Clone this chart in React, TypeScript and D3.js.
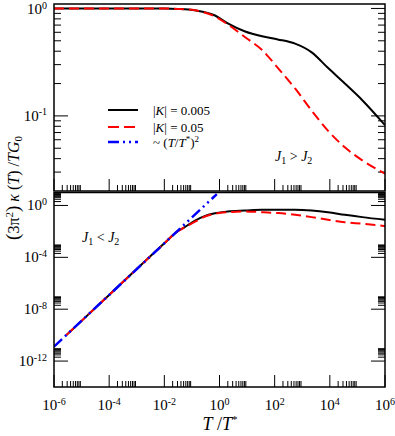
import React from 'react';
import * as d3 from 'd3';

const W = 395;
const H = 436;
const FONT = "'Liberation Serif', 'DejaVu Serif', 'Noto Serif', 'Nimbus Roman', 'FreeSerif', Tinos, serif";

// T / T*  (shared x)
const topT = [1e-6, 1e-4, 1e-2, 0.03, 0.13, 0.69, 2.0, 8.5, 35, 130, 550, 2200, 8500, 35000, 150000, 1e6];
// top panel, (3pi^2) kappa / T G0 for J1 > J2
const topK005 = [1, 1, 0.999, 0.99, 0.96, 0.86, 0.725, 0.61, 0.55, 0.515, 0.47, 0.39, 0.28, 0.2, 0.14, 0.082];
const topK05 = [1, 1, 0.999, 0.99, 0.96, 0.84, 0.71, 0.54, 0.41, 0.28, 0.18, 0.112, 0.073, 0.051, 0.0386, 0.029];

// bottom panel, J1 < J2
const botT = [2.8e-6, 1e-5, 1e-4, 1e-3, 1e-2, 0.03, 0.048, 0.13, 0.3, 0.69, 2, 8.5, 35, 130, 550, 2200, 8500, 35000, 150000, 1e6];
const botK005 = [1e-10, 1.26e-9, 1.26e-7, 1.26e-5, 1.2e-3, 0.01, 0.0178, 0.069, 0.158, 0.251, 0.347, 0.407, 0.468, 0.468, 0.468, 0.407, 0.302, 0.19, 0.126, 0.079];
const botK05 = [1e-10, 1.26e-9, 1.26e-7, 1.26e-5, 1.2e-3, 0.01, 0.0178, 0.056, 0.141, 0.229, 0.302, 0.347, 0.302, 0.257, 0.19, 0.126, 0.079, 0.051, 0.039, 0.026];
// ~ (T/T*)^2 guide
const powT = [1e-6, 0.8];
const powV = [1.3e-11, 7.5];

const xMajorExp = [-6, -4, -2, 0, 2, 4, 6];
const topMajorExp = [0, -1];
const botMajorExp = [0, -4, -8, -12];

const x = d3.scaleLog().domain([1e-6, 1e6]).range([54, 385]);
const yTop = d3.scaleLog().domain([0.02, 1.1]).range([191, 4]);
const yBot = d3.scaleLog().domain([1e-14, 10]).range([387, 192.5]);

const zip = (a: number[], b: number[]) => a.map((v, i) => [v, b[i]] as [number, number]);
const path = (ys: d3.ScaleLogarithmic<number, number>, a: number[], b: number[]) =>
  d3.line<[number, number]>().x(d => x(d[0])).y(d => ys(d[1])).curve(d3.curveMonotoneX)(zip(a, b)) || '';

const Pow = ({ px, py, e, anchor }: { px: number; py: number; e: number; anchor: string }) => (
  <text x={px} y={py} textAnchor={anchor as any} fontSize={15} style={{ fontFamily: FONT }}>
    10<tspan dy={-5.5} fontSize={10}>{e < 0 ? '-' + -e : e}</tspan>
  </text>
);

function Panel({ ys, majors, minors, clip }: { ys: any; majors: number[]; minors: number[]; clip: string }) {
  const [yb, yt] = ys.range();
  const xMinor: number[] = [];
  xMajorExp.slice(0, -1).forEach(e => { for (let k = 2; k <= 9; k++) xMinor.push(k * Math.pow(10, e)); });
  return (
    <g>
      <clipPath id={clip}><rect x={54} y={yt} width={331} height={yb - yt} /></clipPath>
      {xMajorExp.map(e => (
        <line key={'xM' + e} x1={x(Math.pow(10, e))} x2={x(Math.pow(10, e))} y1={yb} y2={yb - 12} stroke="#000" strokeWidth={1} />
      ))}
      {xMinor.map((v, i) => (
        <line key={'xm' + i} x1={x(v)} x2={x(v)} y1={yb} y2={yb - 6} stroke="#000" strokeWidth={1} />
      ))}
      {majors.map(e => {
        const yy = ys(Math.pow(10, e));
        return (
          <g key={'yM' + e}>
            <line x1={54} x2={68} y1={yy} y2={yy} stroke="#000" strokeWidth={1} />
            <line x1={385} x2={371} y1={yy} y2={yy} stroke="#000" strokeWidth={1} />
          </g>
        );
      })}
      {minors.map((v, i) => {
        const yy = ys(v);
        return (
          <g key={'ym' + i}>
            <line x1={54} x2={61} y1={yy} y2={yy} stroke="#000" strokeWidth={1} />
            <line x1={385} x2={378} y1={yy} y2={yy} stroke="#000" strokeWidth={1} />
          </g>
        );
      })}
      {majors.map(e => (
        <Pow key={'yl' + e} px={47} py={Math.max(ys(Math.pow(10, e)) + 5, 14)} e={e} anchor="end" />
      ))}
    </g>
  );
}

export default function App() {
  const topMinor: number[] = [];
  [-2, -1].forEach(e => { for (let k = 2; k <= 9; k++) { const v = k * Math.pow(10, e); if (v > 0.0201) topMinor.push(v); } });
  const botMinor: number[] = [];
  botMajorExp.forEach(e => { for (let k = 2; k <= 9; k++) botMinor.push(k * Math.pow(10, e)); });

  return (
    <svg width={W} height={H} style={{ position: 'absolute', left: 0, top: 0, fontFamily: FONT }}>
      <rect width={W} height={H} fill="#fff" />
      <Panel ys={yTop} majors={topMajorExp} minors={topMinor} clip="clipTop" />
      <Panel ys={yBot} majors={botMajorExp} minors={botMinor} clip="clipBot" />

      <g clipPath="url(#clipTop)" fill="none">
        <path d={path(yTop, topT, topK005)} stroke="#000" strokeWidth={2} />
        <path d={path(yTop, topT, topK05)} stroke="#ff0000" strokeWidth={2} strokeDasharray="10,5" />
      </g>
      <g clipPath="url(#clipBot)" fill="none">
        <path d={path(yBot, botT, botK005)} stroke="#000" strokeWidth={2} />
        <path d={path(yBot, botT, botK05)} stroke="#ff0000" strokeWidth={2} strokeDasharray="10,5" />
        <path d={path(yBot, powT, powV)} stroke="#0000ff" strokeWidth={2.5} strokeDasharray="11,4,2,4,2,4" />
      </g>

      <rect x={54} y={4} width={331} height={187} fill="none" stroke="#000" strokeWidth={1.5} />
      <rect x={54} y={192.5} width={331} height={194.5} fill="none" stroke="#000" strokeWidth={1.5} />

      {xMajorExp.map(e => (
        <Pow key={'xl' + e} px={x(Math.pow(10, e))} py={410} e={e} anchor="middle" />
      ))}

      {/* legend */}
      <line x1={108} x2={138} y1={110} y2={110} stroke="#000" strokeWidth={2} />
      <line x1={108} x2={138} y1={127} y2={127} stroke="#ff0000" strokeWidth={2} strokeDasharray="11,5" />
      <line x1={108} x2={138} y1={142} y2={142} stroke="#0000ff" strokeWidth={2.5} strokeDasharray="11,4,2,4,2,4" />
      <text x={153} y={114.5} fontSize={13}>|<tspan fontStyle="italic">K</tspan>| = 0.005</text>
      <text x={153} y={131.5} fontSize={13}>|<tspan fontStyle="italic">K</tspan>| = 0.05</text>
      <text x={153} y={146.5} fontSize={13}>~ (<tspan fontStyle="italic">T</tspan>/<tspan fontStyle="italic">T</tspan><tspan dy={-5} fontSize={9}>*</tspan><tspan dy={5}>)</tspan><tspan dy={-5} fontSize={9}>2</tspan></text>

      <text x={275} y={161} fontSize={14}>
        <tspan fontStyle="italic">J</tspan><tspan dy={3} fontSize={10}>1</tspan><tspan dy={-3}> &gt; </tspan>
        <tspan fontStyle="italic">J</tspan><tspan dy={3} fontSize={10}>2</tspan>
      </text>
      <text x={82} y={242} fontSize={14}>
        <tspan fontStyle="italic">J</tspan><tspan dy={3} fontSize={10}>1</tspan><tspan dy={-3}> &lt; </tspan>
        <tspan fontStyle="italic">J</tspan><tspan dy={3} fontSize={10}>2</tspan>
      </text>

      <text x={220} y={430} fontSize={18} textAnchor="middle">
        <tspan fontStyle="italic">T</tspan> /<tspan fontStyle="italic">T</tspan><tspan dy={-7} fontSize={11}>*</tspan>
      </text>

      <text transform="translate(19,188) rotate(-90)" textAnchor="middle" fontSize={16}>
        <tspan fontSize={19}>(</tspan>3π<tspan dy={-6} fontSize={11}>2</tspan><tspan dy={6} fontSize={19}>)</tspan>
        {' '}<tspan fontStyle="italic">κ</tspan> (<tspan fontStyle="italic">T</tspan>) /<tspan fontStyle="italic">TG</tspan><tspan dy={3} fontSize={11}>0</tspan>
      </text>
    </svg>
  );
}
